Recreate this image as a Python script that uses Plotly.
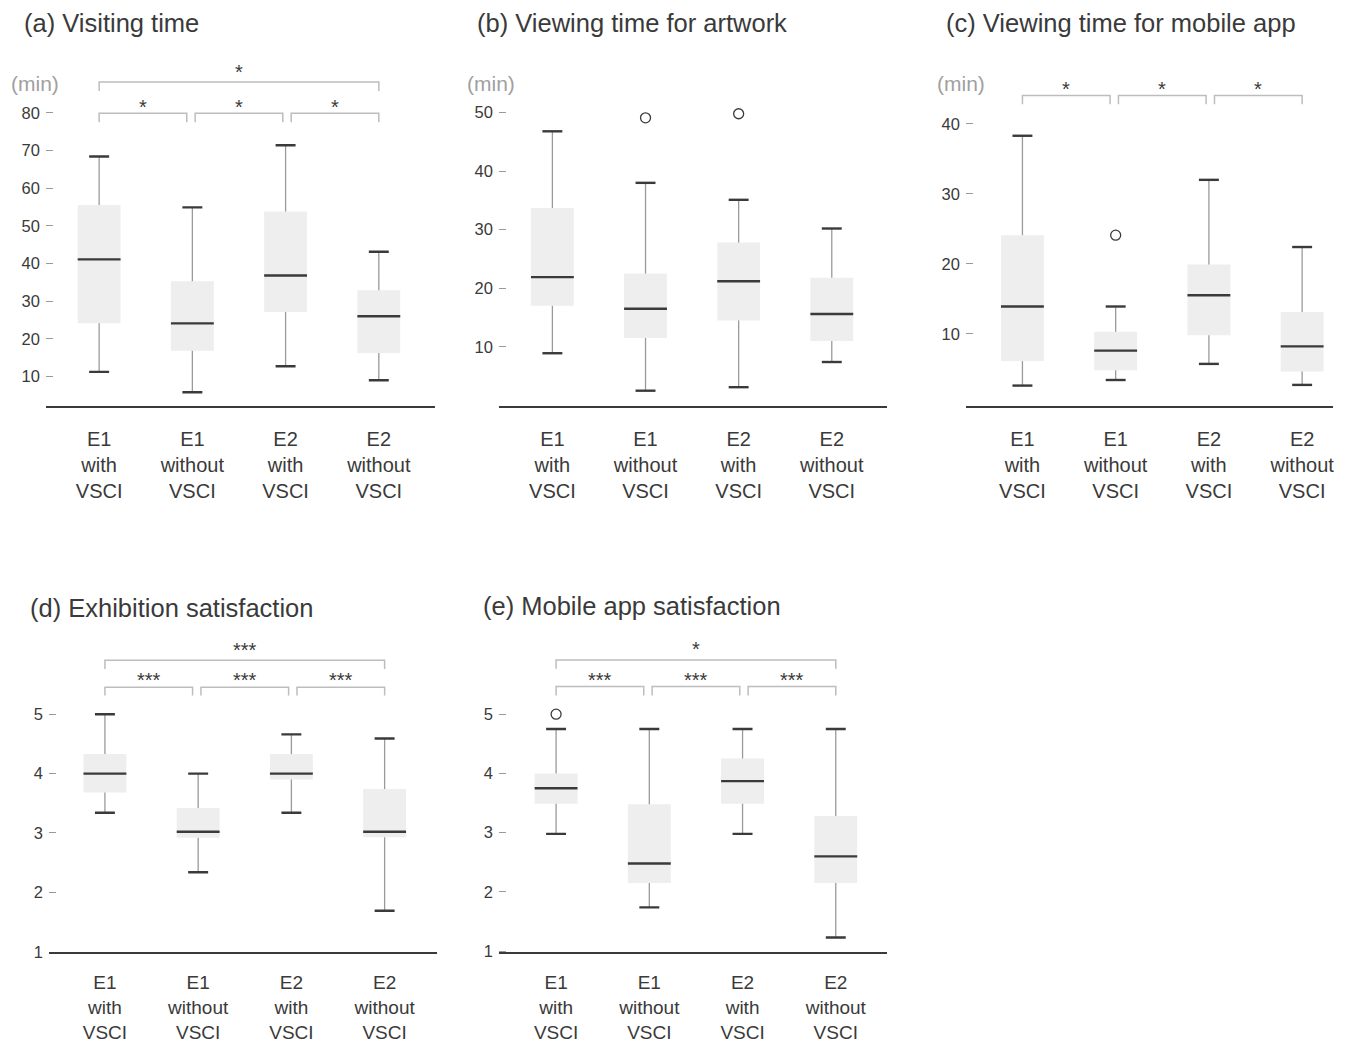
import plotly.graph_objects as go

# ---------------- data ----------------
categories = ["E1<br>with<br>VSCI", "E1<br>without<br>VSCI", "E2<br>with<br>VSCI", "E2<br>without<br>VSCI"]

# (a) Visiting time (min)
a_lower = [11.2, 5.8, 12.7, 9.0]
a_q1 = [24.1, 16.8, 27.1, 16.2]
a_median = [41.1, 24.1, 36.8, 26.0]
a_q3 = [55.5, 35.3, 53.8, 32.9]
a_upper = [68.4, 54.9, 71.4, 43.1]
a_outliers = [[], [], [], []]
a_sig = [(0, 1, "*", 0), (1, 2, "*", 0), (2, 3, "*", 0), (0, 3, "*", 1)]

# (b) Viewing time for artwork (min)
b_lower = [8.9, 2.5, 3.1, 7.4]
b_q1 = [17.0, 11.5, 14.5, 11.0]
b_median = [21.9, 16.5, 21.2, 15.6]
b_q3 = [33.7, 22.5, 27.8, 21.8]
b_upper = [46.8, 38.0, 35.1, 30.2]
b_outliers = [[], [49.1], [49.8], []]
b_sig = []

# (c) Viewing time for mobile app (min)
c_lower = [2.6, 3.4, 5.7, 2.7]
c_q1 = [6.1, 4.8, 9.8, 4.6]
c_median = [13.9, 7.6, 15.5, 8.2]
c_q3 = [24.1, 10.3, 19.9, 13.1]
c_upper = [38.3, 13.9, 32.0, 22.4]
c_outliers = [[], [24.1], [], []]
c_sig = [(0, 1, "*", 0), (1, 2, "*", 0), (2, 3, "*", 0)]

# (d) Exhibition satisfaction
d_lower = [3.34, 2.34, 3.34, 1.69]
d_q1 = [3.68, 2.92, 3.90, 2.93]
d_median = [4.00, 3.02, 4.00, 3.02]
d_q3 = [4.33, 3.42, 4.33, 3.74]
d_upper = [5.00, 4.00, 4.66, 4.59]
d_outliers = [[], [], [], []]
d_sig = [(0, 1, "***", 0), (1, 2, "***", 0), (2, 3, "***", 0), (0, 3, "***", 1)]

# (e) Mobile app satisfaction
e_lower = [2.98, 1.74, 2.98, 1.23]
e_q1 = [3.49, 2.15, 3.49, 2.15]
e_median = [3.75, 2.48, 3.87, 2.60]
e_q3 = [4.00, 3.48, 4.25, 3.28]
e_upper = [4.75, 4.75, 4.75, 4.75]
e_outliers = [[5.0], [], [], []]
e_sig = [(0, 1, "***", 0), (1, 2, "***", 0), (2, 3, "***", 0), (0, 3, "*", 1)]

titles = ["(a) Visiting time", "(b) Viewing time for artwork", "(c) Viewing time for mobile app",
          "(d) Exhibition satisfaction", "(e) Mobile app satisfaction"]
a_ticks = [10, 20, 30, 40, 50, 60, 70, 80]
b_ticks = [10, 20, 30, 40, 50]
c_ticks = [10, 20, 30, 40]
d_ticks = [1, 2, 3, 4, 5]
e_ticks = [1, 2, 3, 4, 5]
unit_label = "(min)"

# ---------------- layout geometry (screen pixels) ----------------
OFF = 8
W, H = 1326, 1046
SY = 0.994  # observed vertical scale of the photographed page
FONT = "Liberation Sans, Arial, Helvetica, sans-serif"
DARK = "#3a3a3a"


def px_x(px):
    return (px - OFF) / W


def px_y(py):
    return 1 - (py / SY - OFF) / H


panels = [
    dict(data=(a_lower, a_q1, a_median, a_q3, a_upper, a_outliers, a_sig), ticks=a_ticks,
         x0=46, x1=435, c0=99.2, sp=93.3, ref=((80, 113.0), (10, 377.0)), base=406.5, top=55,
         title=(24, 23), unit=(35, 84), cat_font=20, cat_pad=14,
         br=dict(low=(113.3, 122.3, 105.0), high=(82.0, 91.0, 70.0))),
    dict(data=(b_lower, b_q1, b_median, b_q3, b_upper, b_outliers, b_sig), ticks=b_ticks,
         x0=499.3, x1=887.7, c0=552.8, sp=93.2, ref=((50, 112.7), (10, 347.3)), base=406.5, top=55,
         title=(477, 23), unit=(491, 84), cat_font=20, cat_pad=14, br=None),
    dict(data=(c_lower, c_q1, c_median, c_q3, c_upper, c_outliers, c_sig), ticks=c_ticks,
         x0=966.7, x1=OFF + W, c0=1023.2, sp=93.3, ref=((40, 124.0), (10, 334.3)), base=406.5, top=55,
         title=(947, 23), unit=(962, 84), cat_font=20, cat_pad=14,
         br=dict(low=(95.7, 104.3, 87.3), high=None)),
    dict(data=(d_lower, d_q1, d_median, d_q3, d_upper, d_outliers, d_sig), ticks=d_ticks,
         x0=49, x1=437, c0=105.0, sp=93.3, ref=((5, 715.3), (1, 953.3)), base=954, top=640,
         title=(30, 609), unit=None, cat_font=19, cat_pad=12,
         br=dict(low=(688.3, 696.7, 679.3), high=(661.3, 670.0, 649.0))),
    dict(data=(e_lower, e_q1, e_median, e_q3, e_upper, e_outliers, e_sig), ticks=e_ticks,
         x0=499.3, x1=887.7, c0=556.5, sp=93.3, ref=((5, 715.3), (1, 952.7)), base=954, top=640,
         title=(483, 607), unit=None, cat_font=19, cat_pad=12,
         br=dict(low=(687.7, 696.7, 679.0), high=(661.0, 669.7, 648.3))),
]

BOX_W = 0.46
CAP_HALF = 0.107
BR_L = [0.0, 1.03, 2.06]
BR_R = [0.94, 1.97, 3.0]

fig = go.Figure()
layout = dict(width=W, height=H, margin=dict(l=0, r=0, t=0, b=0),
              paper_bgcolor="white", plot_bgcolor="white", showlegend=False,
              font=dict(family=FONT, color=DARK))
annotations = []

for k, p in enumerate(panels):
    n = "" if k == 0 else str(k + 1)
    xa, ya = "x" + n, "y" + n
    lower, q1, med, q3, upper, outl, sig = p["data"]
    (va, pya), (vb, pyb) = p["ref"]
    ppu = (pyb - pya) / (va - vb)

    def v_of(py, ppu=ppu, va=va, pya=pya):
        return va + (pya - py) / ppu

    yr = [v_of(p["base"]), v_of(p["top"])]
    xr = [(p["x0"] - p["c0"]) / p["sp"], (p["x1"] - p["c0"]) / p["sp"]]
    idx = list(range(len(categories)))

    layout["xaxis" + n] = dict(domain=[px_x(p["x0"]), px_x(p["x1"])], anchor=ya, range=xr,
                               tickvals=idx, ticktext=categories, showgrid=False, zeroline=False,
                               showline=True, linecolor=DARK, linewidth=2, ticks="",
                               tickfont=dict(size=p["cat_font"], color=DARK, family=FONT),
                               ticklabelstandoff=p["cat_pad"], ticklabeloverflow="allow",
                               fixedrange=True)
    layout["yaxis" + n] = dict(domain=[px_y(p["base"]), px_y(p["top"])], anchor=xa, range=yr,
                               tickvals=p["ticks"], showgrid=False, zeroline=False, showline=False,
                               ticks="inside", ticklen=7, tickwidth=1.3, tickcolor="#9a9a9a",
                               tickfont=dict(size=16.5, color=DARK, family=FONT),
                               ticklabelstandoff=5, ticklabeloverflow="allow", fixedrange=True)

    fig.add_trace(go.Box(x=idx, q1=q1, median=med, q3=q3, lowerfence=lower, upperfence=upper,
                         width=BOX_W, fillcolor="#eeeeee", line=dict(width=0, color="#eeeeee"),
                         whiskerwidth=0, boxpoints=False, hoverinfo="skip",
                         xaxis=xa, yaxis=ya))
    # whisker stems
    sx, sy = [], []
    for i in idx:
        sx += [i, i, None, i, i, None]
        sy += [q3[i], upper[i], None, lower[i], q1[i], None]
    fig.add_trace(go.Scatter(x=sx, y=sy, mode="lines", line=dict(color="#9a9a9a", width=1.3),
                             hoverinfo="skip", xaxis=xa, yaxis=ya))
    # caps
    cx, cy = [], []
    for i in idx:
        cx += [i - CAP_HALF, i + CAP_HALF, None, i - CAP_HALF, i + CAP_HALF, None]
        cy += [upper[i], upper[i], None, lower[i], lower[i], None]
    fig.add_trace(go.Scatter(x=cx, y=cy, mode="lines", line=dict(color=DARK, width=2.4),
                             hoverinfo="skip", xaxis=xa, yaxis=ya))
    # medians
    mx, my = [], []
    for i in idx:
        mx += [i - BOX_W / 2, i + BOX_W / 2, None]
        my += [med[i], med[i], None]
    fig.add_trace(go.Scatter(x=mx, y=my, mode="lines", line=dict(color=DARK, width=2.4),
                             hoverinfo="skip", xaxis=xa, yaxis=ya))
    # outliers
    ox, oy = [], []
    for i in idx:
        for v in outl[i]:
            ox.append(i)
            oy.append(v)
    if ox:
        fig.add_trace(go.Scatter(x=ox, y=oy, mode="markers",
                                 marker=dict(symbol="circle-open", size=10, color=DARK,
                                             line=dict(width=1.3, color=DARK)),
                                 hoverinfo="skip", xaxis=xa, yaxis=ya))
    # significance brackets
    if sig:
        bx, by = [], []
        for (i, j, lab, lev) in sig:
            geo = p["br"]["low"] if lev == 0 else p["br"]["high"]
            ytop, yleg, ystar = v_of(geo[0]), v_of(geo[1]), v_of(geo[2])
            if lev == 0:
                xl, xr_ = BR_L[i], BR_R[j - 1]
            else:
                xl, xr_ = float(i), float(j)
            bx += [xl, xl, xr_, xr_, None]
            by += [yleg, ytop, ytop, yleg, None]
            annotations.append(dict(x=(xl + xr_) / 2, y=ystar, xref=xa, yref=ya, text=lab,
                                    showarrow=False, xanchor="center", yanchor="middle", yshift=-2,
                                    font=dict(size=20, color=DARK, family=FONT)))
        fig.add_trace(go.Scatter(x=bx, y=by, mode="lines", line=dict(color="#bdbdbd", width=1.5),
                                 hoverinfo="skip", xaxis=xa, yaxis=ya))

    tx, ty = p["title"]
    annotations.append(dict(x=px_x(tx - 2), y=px_y(ty), xref="paper", yref="paper", text=titles[k],
                            showarrow=False, xanchor="left", yanchor="middle",
                            font=dict(size=25.5, color=DARK, family=FONT)))
    if p["unit"]:
        ux, uy = p["unit"]
        annotations.append(dict(x=px_x(ux), y=px_y(uy), xref="paper", yref="paper", text=unit_label,
                                showarrow=False, xanchor="center", yanchor="middle",
                                font=dict(size=21, color="#a0a0a0", family=FONT)))

layout["annotations"] = annotations
fig.update_layout(**layout)
fig.write_html("out.html")
